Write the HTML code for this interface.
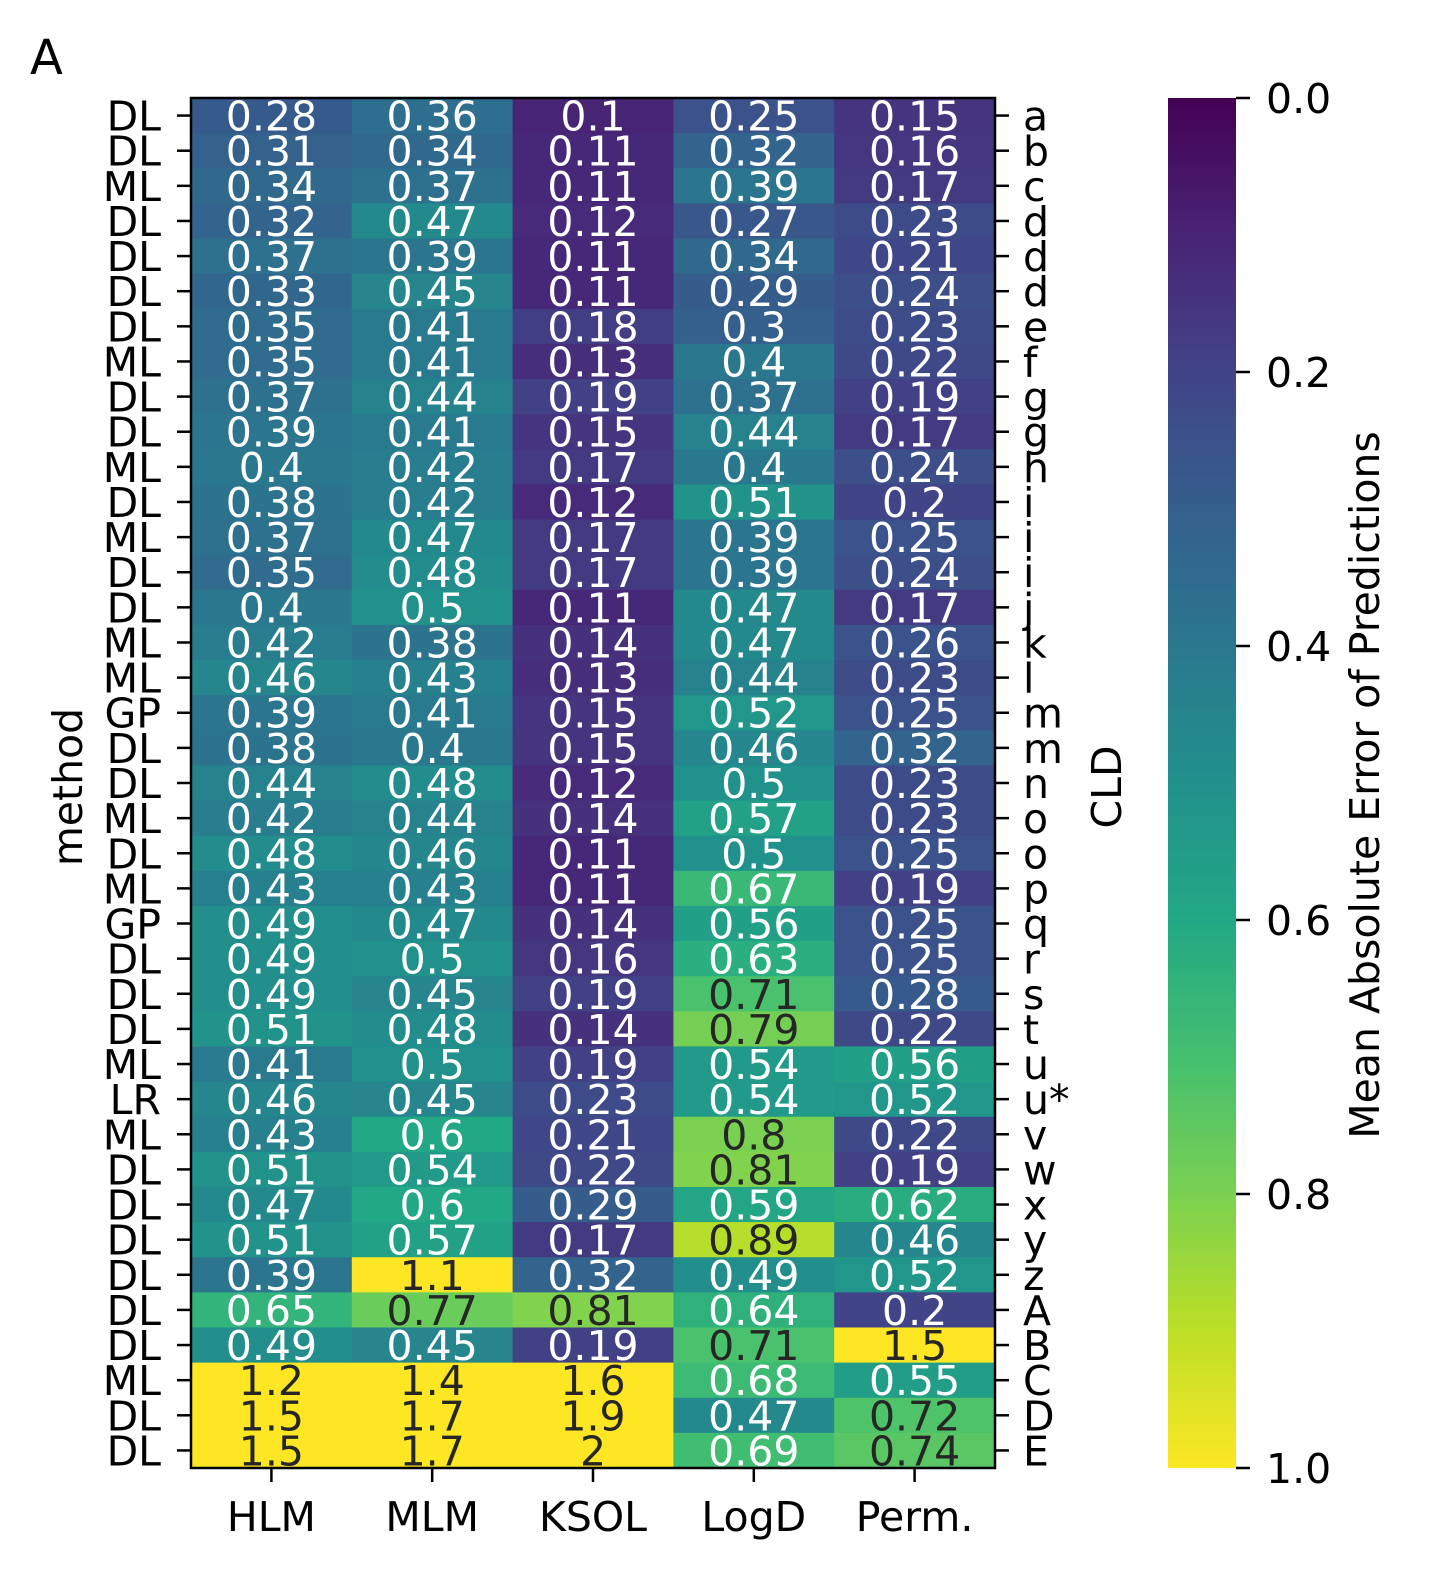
<!DOCTYPE html>
<html><head><meta charset="utf-8"><style>
html,body{margin:0;padding:0;background:#fff;}
svg text{font-family:"DejaVu Sans","Liberation Sans",sans-serif;}
</style></head><body>
<svg id="chart" width="1434" height="1586" viewBox="0 0 1434 1586" xmlns="http://www.w3.org/2000/svg">
<text x="30" y="74" font-size="48">A</text>
<g id="cells"></g><g id="axes"></g>
</svg>
<script>
const columns=["HLM","MLM","KSOL","LogD","Perm."];
const methods=["DL","DL","ML","DL","DL","DL","DL","ML","DL","DL","ML","DL","ML","DL","DL","ML","ML","GP","DL","DL","ML","DL","ML","GP","DL","DL","DL","ML","LR","ML","DL","DL","DL","DL","DL","DL","ML","DL","DL"];
const cld=["a","b","c","d","d","d","e","f","g","g","h","i","i","i","j","k","l","m","m","n","o","o","p","q","r","s","t","u","u*","v","w","x","y","z","A","B","C","D","E"];
const hlm=[0.28,0.31,0.34,0.32,0.37,0.33,0.35,0.35,0.37,0.39,0.4,0.38,0.37,0.35,0.4,0.42,0.46,0.39,0.38,0.44,0.42,0.48,0.43,0.49,0.49,0.49,0.51,0.41,0.46,0.43,0.51,0.47,0.51,0.39,0.65,0.49,1.2,1.5,1.5];
const mlm=[0.36,0.34,0.37,0.47,0.39,0.45,0.41,0.41,0.44,0.41,0.42,0.42,0.47,0.48,0.5,0.38,0.43,0.41,0.4,0.48,0.44,0.46,0.43,0.47,0.5,0.45,0.48,0.5,0.45,0.6,0.54,0.6,0.57,1.1,0.77,0.45,1.4,1.7,1.7];
const ksol=[0.1,0.11,0.11,0.12,0.11,0.11,0.18,0.13,0.19,0.15,0.17,0.12,0.17,0.17,0.11,0.14,0.13,0.15,0.15,0.12,0.14,0.11,0.11,0.14,0.16,0.19,0.14,0.19,0.23,0.21,0.22,0.29,0.17,0.32,0.81,0.19,1.6,1.9,2];
const logd=[0.25,0.32,0.39,0.27,0.34,0.29,0.3,0.4,0.37,0.44,0.4,0.51,0.39,0.39,0.47,0.47,0.44,0.52,0.46,0.5,0.57,0.5,0.67,0.56,0.63,0.71,0.79,0.54,0.54,0.8,0.81,0.59,0.89,0.49,0.64,0.71,0.68,0.47,0.69];
const perm=[0.15,0.16,0.17,0.23,0.21,0.24,0.23,0.22,0.19,0.17,0.24,0.2,0.25,0.24,0.17,0.26,0.23,0.25,0.32,0.23,0.23,0.25,0.19,0.25,0.25,0.28,0.22,0.56,0.52,0.22,0.19,0.62,0.46,0.52,0.2,1.5,0.55,0.72,0.74];
const cbTicks=[0,0.2,0.4,0.6,0.8,1.0];
const series=[hlm,mlm,ksol,logd,perm];

const L=191,R=995,T=98,B=1468;
const nR=methods.length,nC=columns.length;
const cw=(R-L)/nC,rh=(B-T)/nR;
const xc=i=>L+cw*(i+0.5), yr=j=>T+rh*j;
const vir=["#440154","#482475","#414487","#355f8d","#2a788e","#21918c","#22a884","#44bf70","#7ad151","#bddf26","#fde725"];
function hex(h){return [1,3,5].map(k=>parseInt(h.substr(k,2),16));}
function cmap(v){v=Math.max(0,Math.min(1,v));const s=v*10,i=Math.min(9,Math.floor(s)),f=s-i;const a=hex(vir[i]),b=hex(vir[i+1]);return "rgb("+a.map((x,k)=>Math.round(x+(b[k]-x)*f)).join(",")+")";}
const NS="http://www.w3.org/2000/svg";
function mk(tag,attrs,parent,txt){const e=document.createElementNS(NS,tag);for(const k in attrs)e.setAttribute(k,attrs[k]);if(txt!==undefined)e.textContent=txt;parent.appendChild(e);return e;}
const cells=document.getElementById("cells"),axes=document.getElementById("axes");
const FS=41;
series.forEach((vals,i)=>{vals.forEach((v,j)=>{
 const r=mk("rect",{x:L+cw*i,y:yr(j),width:cw+0.6,height:rh+0.6,fill:cmap(v)},cells);
 
 
 const t=mk("text",{x:xc(i),y:yr(j)+rh/2+15,"font-size":FS,"text-anchor":"middle",fill:v>=0.7?"#262626":"#fff"},cells,String(v));
 
 
});});
mk("rect",{x:L,y:T,width:R-L,height:B-T,fill:"none",stroke:"#000","stroke-width":2.5},axes);
methods.forEach((m,j)=>{const y=yr(j)+rh/2;
 mk("line",{x1:L-14,x2:L,y1:y,y2:y,stroke:"#000","stroke-width":2.5},axes);
 const t=mk("text",{x:L-30,y:y+15,"font-size":FS,"text-anchor":"end"},axes,m);
 
 
 mk("line",{x1:R,x2:R+14,y1:y,y2:y,stroke:"#000","stroke-width":2.5},axes);
 const c=mk("text",{x:R+28,y:y+15,"font-size":FS},axes,cld[j]);
 
 
});
columns.forEach((c,i)=>{const x=xc(i);
 mk("line",{x1:x,x2:x,y1:B,y2:B+14,stroke:"#000","stroke-width":2.5},axes);
 const t=mk("text",{x:x,y:1531,"font-size":FS,"text-anchor":"middle"},axes,c);
 
 
});
const ml=mk("text",{transform:"translate(82,787) rotate(-90)","font-size":FS,"text-anchor":"middle"},axes,"method");


const cl=mk("text",{transform:"translate(1121,787) rotate(-90)","font-size":FS,"text-anchor":"middle"},axes,"CLD");


const CX=1168,CW=68;
const defs=mk("defs",{},axes);
const g=mk("linearGradient",{id:"vg",x1:0,y1:0,x2:0,y2:1},defs);
vir.forEach((c,k)=>mk("stop",{offset:k/10,"stop-color":c},g));
const cb=mk("rect",{x:CX,y:T,width:CW,height:B-T,fill:"url(#vg)"},axes);


cbTicks.forEach(v=>{const y=T+(B-T)*v;
 mk("line",{x1:CX+CW,x2:CX+CW+14,y1:y,y2:y,stroke:"#000","stroke-width":2.5},axes);
 const t=mk("text",{x:CX+CW+30,y:y+15,"font-size":FS},axes,v.toFixed(1));
 
 
});
const cbl=mk("text",{transform:"translate(1379,785) rotate(-90)","font-size":FS,"text-anchor":"middle"},axes,"Mean Absolute Error of Predictions");


</script>
</body></html>
